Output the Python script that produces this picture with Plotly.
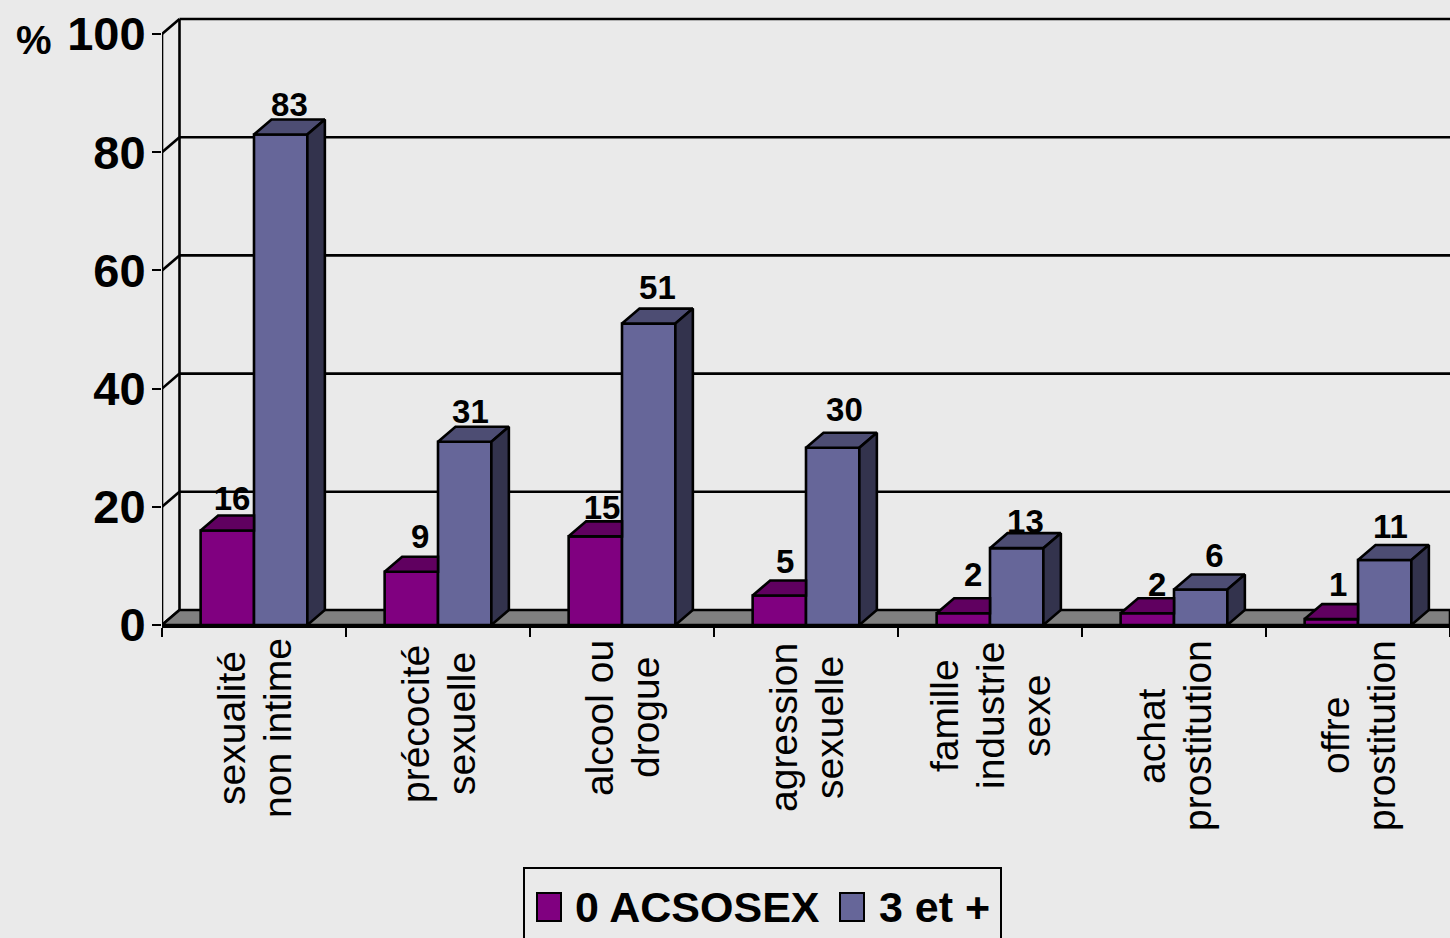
import plotly.graph_objects as go

categories = ["sexualité<br>non intime", "précocité<br>sexuelle", "alcool ou<br>drogue",
              "agression<br>sexuelle", "famille<br>industrie<br>sexe", "achat<br>prostitution",
              "offre<br>prostitution"]
series_names = ["0 ACSOSEX", "3 et +"]
acsosex_0 = [16, 9, 15, 5, 2, 2, 1]
acsosex_3 = [83, 31, 51, 30, 13, 6, 11]
y_ticks = [0, 20, 40, 60, 80, 100]

# layout tuning (pixels), separate from the data
label_lift_0 = [29, 32, 26, 31, 35, 25, 31]
label_lift_3 = [27, 27, 33, 35, 23, 31, 30]
label_nudge_0 = [-4, 0, -2, -3, 1, 1, -2]
label_nudge_3 = [0, -3, 0, 3, 0, 5, -3]
category_center_y = [728, 724, 718, 728, 716, 736, 736]
LINE_STEP = 46

W, H = 1450, 938
L, R, T, B = 162, 0, 17, 313
UNIT = 5.91
CAT = (W - L - R) / len(categories)
DX = 17.5 / CAT
DY = 15 / UNIT
BW = 0.29
BG = "#EAEAEA"
PURPLE, PURPLE_TOP = "#800080", "#600060"
BLUE, BLUE_TOP, BLUE_SIDE = "#666699", "#4D4D73", "#33334D"
BOLD = "Liberation Sans, Arial, sans-serif"
REG = "Liberation Sans, Arial, sans-serif"
LW = 2.6

xmin, xmax = -0.5, len(categories) - 0.5
ymax = (H - B - T) / UNIT


def px(x):
    return (x - L) / (W - L - R)


def py(y):
    return (H - B - y) / (H - B - T)


fig = go.Figure()
xs = list(range(len(categories)))
fig.add_trace(go.Bar(x=xs, y=acsosex_0, name=series_names[0], marker=dict(color=PURPLE, line=dict(color="black", width=LW))))
fig.add_trace(go.Bar(x=xs, y=acsosex_3, name=series_names[1], marker=dict(color=BLUE, line=dict(color="black", width=LW))))


def poly(xv, yv, color):
    fig.add_trace(go.Scatter(x=xv + xv[:1], y=yv + yv[:1], mode="lines", fill="toself", fillcolor=color,
                             line=dict(color="black", width=LW), hoverinfo="skip"))


for i in xs:
    a, b = acsosex_0[i], acsosex_3[i]
    # top of the purple block, cut where the blue front face starts
    poly([i - BW, i - BW + DX, i, i], [a, a + DY, a + DY, a], PURPLE_TOP)
    poly([i, i + DX, i + BW + DX, i + BW], [b, b + DY, b + DY, b], BLUE_TOP)
    poly([i + BW, i + BW + DX, i + BW + DX, i + BW], [0, DY, b + DY, b], BLUE_SIDE)

for vals, off, lift, nudge in ((acsosex_0, -BW / 2, label_lift_0, label_nudge_0),
                               (acsosex_3, BW / 2, label_lift_3, label_nudge_3)):
    fig.add_trace(go.Scatter(x=[i + off + DX / 2 + nudge[i] / CAT for i in xs],
                             y=[v + lift[i] / UNIT for i, v in enumerate(vals)], mode="text",
                             text=[str(v) for v in vals], textposition="middle center",
                             textfont=dict(family=BOLD, size=33, color="black", weight=700), hoverinfo="skip"))

shapes = []
line = dict(color="black", width=LW)
# front axis line, back wall line
shapes.append(dict(type="line", xref="x", yref="y", x0=xmin, x1=xmin, y0=0, y1=y_ticks[-1], line=line, layer="below"))
shapes.append(dict(type="line", xref="x", yref="y", x0=xmin + DX, x1=xmin + DX, y0=DY, y1=y_ticks[-1] + DY, line=line, layer="below"))
for t in y_ticks:
    shapes.append(dict(type="line", xref="x", yref="y", x0=xmin, x1=xmin + DX, y0=t, y1=t + DY, line=line, layer="below"))
    if t:
        shapes.append(dict(type="line", xref="x", yref="y", x0=xmin + DX, x1=xmax, y0=t + DY, y1=t + DY, line=line, layer="below"))
shapes.append(dict(type="path", xref="x", yref="y", layer="below", fillcolor="#808080", line=line,
                   path=f"M{xmin},0 L{xmin + DX},{DY} L{xmax},{DY} L{xmax},0 Z"))

# legend box and swatches
shapes.append(dict(type="rect", xref="paper", yref="paper", x0=px(524), x1=px(1001), y0=py(968), y1=py(868),
                   line=dict(color="black", width=2), fillcolor="rgba(0,0,0,0)"))
shapes.append(dict(type="rect", xref="paper", yref="paper", x0=px(537), x1=px(561), y0=py(921), y1=py(893),
                   line=dict(color="black", width=2), fillcolor=PURPLE))
shapes.append(dict(type="rect", xref="paper", yref="paper", x0=px(840), x1=px(864), y0=py(921), y1=py(893),
                   line=dict(color="black", width=2), fillcolor=BLUE))

annotations = []
for i, c in enumerate(categories):
    parts = c.split("<br>")
    for j, part in enumerate(parts):
        annotations.append(dict(x=i, xref="x", y=py(category_center_y[i]), yref="paper", text=part, textangle=-90,
                                showarrow=False, xanchor="center", yanchor="middle",
                                xshift=(j - (len(parts) - 1) / 2) * LINE_STEP,
                                font=dict(family=REG, size=39, color="black")))
annotations.append(dict(x=px(14), xref="paper", y=py(40), yref="paper", text="%", showarrow=False, xanchor="left",
                        yanchor="middle", font=dict(family=REG, size=40, color="black", weight=700)))
for name, left in zip(series_names, (573, 877)):
    annotations.append(dict(x=px(left), xref="paper", y=py(907), yref="paper", text=name, showarrow=False,
                            xanchor="left", yanchor="middle", font=dict(family=BOLD, size=43, color="black", weight=700)))

fig.update_layout(
    width=W, height=H, margin=dict(l=L, r=R, t=T, b=B, pad=0), paper_bgcolor=BG, plot_bgcolor=BG,
    barmode="group", bargap=1 - 2 * BW, bargroupgap=0, showlegend=False,
    shapes=shapes, annotations=annotations,
    xaxis=dict(range=[xmin, xmax], tickmode="array", tickvals=[i - 0.5 for i in range(len(categories) + 1)],
               ticktext=[""] * (len(categories) + 1), ticks="outside", ticklen=9, tickwidth=2, tickcolor="black",
               showgrid=False, zeroline=False, showline=True, linecolor="black", linewidth=LW),
    yaxis=dict(range=[0, ymax], tickmode="array", tickvals=y_ticks, ticks="outside", ticklen=9, tickwidth=2.4,
               tickcolor="black", showgrid=False, zeroline=False, showline=False, ticklabelstandoff=-3,
               tickfont=dict(family=BOLD, size=47, color="black", weight=700)),
)
fig.write_html("out.html", config={"displayModeBar": False}, post_script="document.body.style.margin='0';")
